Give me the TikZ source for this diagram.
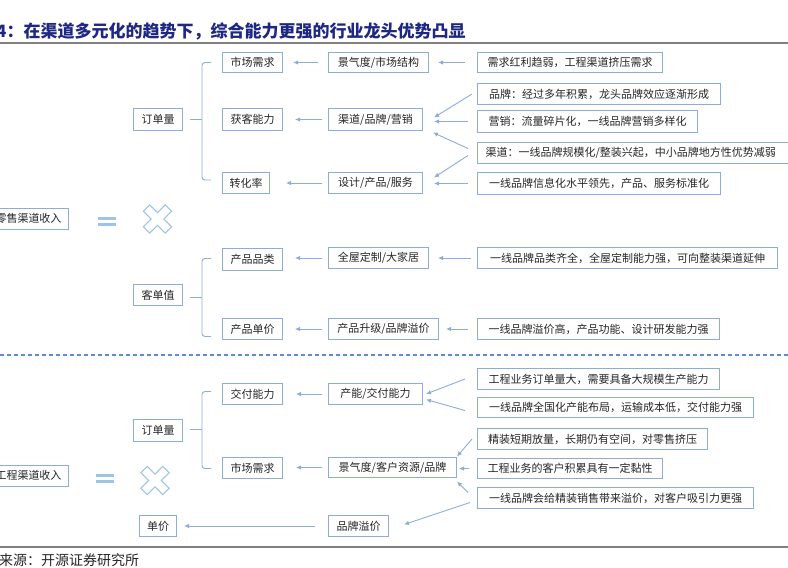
\documentclass[tikz,border=0pt]{standalone}
\usepackage{fontspec}
\newfontfamily\cjk{Noto Sans CJK SC}
\usetikzlibrary{arrows.meta,calc}
\definecolor{boxc}{RGB}{143,170,220}
\definecolor{arrc}{RGB}{143,170,220}
\definecolor{symc}{RGB}{157,195,230}
\definecolor{dashc}{RGB}{91,139,213}
\definecolor{titc}{RGB}{30,40,130}
\definecolor{txt}{RGB}{38,38,38}
\definecolor{rulec}{RGB}{128,128,128}
\tikzset{
 box/.style={draw=boxc, line width=1pt, anchor=north west, inner sep=0pt, text=txt, font=\cjk\fontsize{11}{13}\selectfont},
 arr/.style={draw=arrc, line width=0.9pt, -{Latex[length=5pt,width=4.5pt]}},
 brk/.style={draw=arrc, line width=0.9pt, rounded corners=3pt},
 eqbar/.style={draw=symc, line width=3.2pt},
 crs/.style={draw=symc, line width=1.1pt, fill=white},
 rulel/.style={draw=rulec, line width=1.5pt},
}
\begin{document}
\begin{tikzpicture}[x=1pt,y=-1pt]
\fill[white] (0,0) rectangle (788,568);
\useasboundingbox (0,0) rectangle (788,568);

% title and rules
\node[anchor=west, inner sep=0pt, text=titc, font=\cjk\bfseries\fontsize{17}{19}\selectfont] (title) at (-4,31) {4：在渠道多元化的趋势下，综合能力更强的行业龙头优势凸显};
\draw[rulel] (0,43) -- (788,43);
\draw[rulel] (0,547) -- (788,547);
\node[anchor=west, inner sep=0pt, text=txt, font=\cjk\fontsize{14}{16}\selectfont] (src) at (-1,560) {来源：开源证券研究所};
\draw[draw=dashc, line width=1.3pt, dash pattern=on 4pt off 3pt] (0,355) -- (788,355);

% ===== top section =====
\node[box, anchor=east, inner xsep=7pt, minimum height=21pt] (retail) at (69,218.5) {零售渠道收入};
\draw[eqbar] (98,218.3) -- (116,218.3);
\draw[eqbar] (98,224.7) -- (116,224.7);
\begin{scope}[shift={(157.5,219)}, rotate=45]
\draw[crs] (-4.5,15.5) -- (4.5,15.5) -- (4.5,4.5) -- (15.5,4.5) -- (15.5,-4.5) -- (4.5,-4.5) -- (4.5,-15.5) -- (-4.5,-15.5) -- (-4.5,-4.5) -- (-15.5,-4.5) -- (-15.5,4.5) -- (-4.5,4.5) -- cycle;
\end{scope}

\node[box, minimum width=49pt, minimum height=22pt] (t_o) at (133,108) {订单量};
\node[box, minimum width=60pt, minimum height=20pt] (t_c1) at (222,52) {市场需求};
\node[box, minimum width=60pt, minimum height=22pt] (t_c2) at (222,108) {获客能力};
\node[box, minimum width=47pt, minimum height=21pt] (t_c3) at (222,172) {转化率};
\node[box, minimum width=100pt, minimum height=20pt] (t_m1) at (328,52) {景气度/市场结构};
\node[box, minimum width=94pt, minimum height=22pt] (t_m2) at (328,108) {渠道/品牌/营销};
\node[box, minimum width=94pt, minimum height=21pt] (t_m3) at (328,172) {设计/产品/服务};
\node[box, minimum width=185pt, minimum height=20pt] (t_r1) at (477,52) {需求红利趋弱，工程渠道挤压需求};
\node[box, minimum width=243pt, minimum height=21pt] (t_r2) at (477,83) {品牌：经过多年积累，龙头品牌效应逐渐形成};
\node[box, minimum width=220pt, minimum height=22pt] (t_r3) at (477,110) {营销：流量碎片化，一线品牌营销多样化};
\node[box, text width=303pt, align=left, inner xsep=8pt, minimum height=21pt] (t_r4) at (477,142) {渠道：一线品牌规模化/整装兴起，中小品牌地方性优势减弱};
\node[box, minimum width=243pt, minimum height=22pt] (t_r5) at (477,172) {一线品牌信息化水平领先，产品、服务标准化};

\draw[brk] ($(t_c1.west)+(-11,0)$) -- ($(t_c1.west)+(-20,0)$) -- ($(t_c3.west)+(-20,-3)$) -- ($(t_c3.west)+(-11,-3)$);
\draw[brk] ($(t_o.east)+(7,0)$) -- ($(t_o.east -| t_c1.west)+(-20,0)$);

\draw[arr] ($(t_m1.west)+(-10,0)$) -- ($(t_m1.west -| t_c1.east)+(10,0)$);
\draw[arr] ($(t_m2.west)+(-6,0)$) -- ($(t_m2.west -| t_c2.east)+(12,0)$);
\draw[arr] ($(t_m3.west)+(-6,0)$) -- ($(t_m3.west -| t_c3.east)+(16,0)$);
\draw[arr] ($(t_r1.west)+(-12,0)$) -- ($(t_r1.west -| t_m1.east)+(9,0)$);
\draw[arr] ($(t_r2.west)+(-5,0)$) -- ($(t_m2.east)+(11,-2)$);
\draw[arr] ($(t_r3.west)+(-9,0)$) -- ($(t_r3.west -| t_m2.east)+(11,0)$);
\draw[arr] ($(t_r4.west)+(-9,-4.5)$) -- ($(t_m2.east)+(10,13)$);
\draw[arr] ($(t_r4.west)+(-9,2.5)$) -- ($(t_m3.east)+(11,-5.5)$);
\draw[arr] ($(t_r5.west)+(-9,0)$) -- ($(t_r5.west -| t_m3.east)+(11,0)$);

% ===== middle (customer value) =====
\node[box, minimum width=49pt, minimum height=21pt] (m_o) at (133,284) {客单值};
\node[box, minimum width=60pt, minimum height=22pt] (m_c1) at (222,248) {产品品类};
\node[box, minimum width=60pt, minimum height=21pt] (m_c2) at (222,318) {产品单价};
\node[box, minimum width=100pt, minimum height=21pt] (m_m1) at (328,247) {全屋定制/大家居};
\node[box, minimum width=110pt, minimum height=21pt] (m_m2) at (328,318) {产品升级/品牌溢价};
\node[box, minimum width=300pt, minimum height=21pt] (m_r1) at (477,247) {一线品牌品类齐全，全屋定制能力强，可向整装渠道延伸};
\node[box, minimum width=242pt, minimum height=21pt] (m_r2) at (477,318) {一线品牌溢价高，产品功能、设计研发能力强};

\draw[brk] ($(m_c1.west)+(-11,-1)$) -- ($(m_c1.west)+(-20,-1)$) -- ($(m_c2.west)+(-20,7.5)$) -- ($(m_c2.west)+(-11,7.5)$);
\draw[brk] ($(m_o.east)+(7,2.5)$) -- ($(m_o.east -| m_c1.west)+(-20,2.5)$);

\draw[arr] ($(m_m1.west)+(-6,0)$) -- ($(m_m1.west -| m_c1.east)+(12,0)$);
\draw[arr] ($(m_m2.west)+(-6,0)$) -- ($(m_m2.west -| m_c2.east)+(12,0)$);
\draw[arr] ($(m_r1.west)+(-6,0)$) -- ($(m_r1.west -| m_m1.east)+(9,0)$);
\draw[arr] ($(m_r2.west)+(-9,0)$) -- ($(m_r2.west -| m_m2.east)+(7,0)$);

% ===== bottom section =====
\node[box, anchor=east, inner xsep=7pt, minimum height=21pt] (eng) at (69,475.5) {工程渠道收入};
\draw[eqbar] (96,475.2) -- (114,475.2);
\draw[eqbar] (96,481.2) -- (114,481.2);
\begin{scope}[shift={(155,480.5)}, rotate=45]
\draw[crs] (-4.5,15.5) -- (4.5,15.5) -- (4.5,4.5) -- (15.5,4.5) -- (15.5,-4.5) -- (4.5,-4.5) -- (4.5,-15.5) -- (-4.5,-15.5) -- (-4.5,-4.5) -- (-15.5,-4.5) -- (-15.5,4.5) -- (-4.5,4.5) -- cycle;
\end{scope}

\node[box, minimum width=49pt, minimum height=22pt] (b_o) at (133,419) {订单量};
\node[box, minimum width=60pt, minimum height=21pt] (b_c1) at (222,383) {交付能力};
\node[box, minimum width=60pt, minimum height=21pt] (b_c2) at (222,457) {市场需求};
\node[box, minimum width=37pt, minimum height=21pt] (b_p) at (139,515) {单价};
\node[box, minimum width=94pt, minimum height=21pt] (b_m1) at (328,383) {产能/交付能力};
\node[box, minimum width=128pt, minimum height=20pt] (b_m2) at (328,457) {景气度/客户资源/品牌};
\node[box, minimum width=60pt, minimum height=21pt] (b_m3) at (328,515) {品牌溢价};
\node[box, minimum width=242pt, minimum height=21pt] (b_r1) at (477,368) {工程业务订单量大，需要具备大规模生产能力};
\node[box, minimum width=276pt, minimum height=20pt] (b_r2) at (477,397) {一线品牌全国化产能布局，运输成本低，交付能力强};
\node[box, minimum width=230pt, minimum height=21pt] (b_r3) at (477,428) {精装短期放量，长期仍有空间，对零售挤压};
\node[box, minimum width=185pt, minimum height=20pt] (b_r4) at (477,458) {工程业务的客户积累具有一定黏性};
\node[box, minimum width=276pt, minimum height=21pt] (b_r5) at (477,487) {一线品牌会给精装销售带来溢价，对客户吸引力更强};

\draw[brk] ($(b_c1.west)+(-11,-2.5)$) -- ($(b_c1.west)+(-20,-2.5)$) -- ($(b_c2.west)+(-20,0.5)$) -- ($(b_c2.west)+(-11,0.5)$);
\draw[brk] ($(b_o.east)+(7,-1)$) -- ($(b_o.east -| b_c1.west)+(-20,-1)$);

\draw[arr] ($(b_m1.west)+(-6,0)$) -- ($(b_m1.west -| b_c1.east)+(13,0)$);
\draw[arr] ($(b_m2.west)+(-6,0)$) -- ($(b_m2.west -| b_c2.east)+(13,0)$);
\draw[arr] ($(b_m3.west)+(-13,0)$) -- ($(b_m3.west -| b_p.east)+(7,0)$);
\draw[arr] ($(b_r1.west)+(-12,0)$) -- ($(b_m1.east)+(3,0)$);
\draw[arr] ($(b_r2.west)+(-12,3)$) -- ($(b_m1.east)+(3,5.5)$);
\draw[arr] ($(b_r3.west)+(-5,0)$) -- ($(b_m2.east)+(0,-11)$);
\draw[arr] ($(b_r4.west)+(-8,0)$) -- ($(b_r4.west -| b_m2.east)+(2,0)$);
\draw[arr] ($(b_r5.west)+(-9,-5.5)$) -- ($(b_m2.east)+(0,14)$);
\draw[arr] ($(b_r5.west)+(-7,4.5)$) -- ($(b_m3.east)+(15,-1.5)$);
\end{tikzpicture}
\end{document}
